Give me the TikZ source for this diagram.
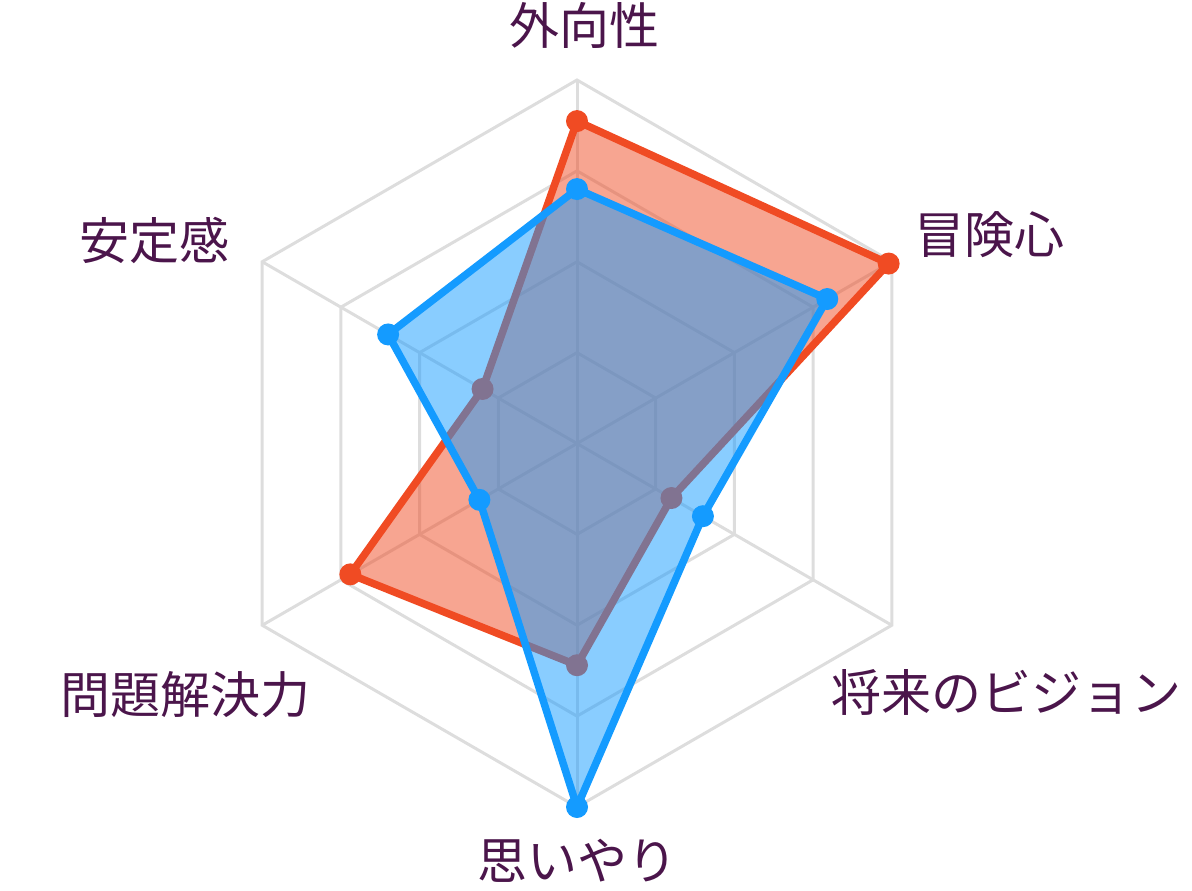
\documentclass[tikz,border=0pt]{standalone}
\usepackage{fontspec}
\newfontfamily\jpfont{Noto Sans CJK JP}
\definecolor{gridgray}{HTML}{DDDDDD}
\definecolor{redS}{RGB}{240,75,35}
\definecolor{blueS}{RGB}{20,155,255}
\definecolor{labelC}{RGB}{75,21,75}
\begin{document}
\begin{tikzpicture}[x=1pt,y=-1pt,
  gridline/.style={draw=gridgray,line width=3pt},
  redarea/.style={fill=redS,fill opacity=0.5},
  bluearea/.style={fill=blueS,fill opacity=0.5},
  redline/.style={draw=redS,line width=7.5pt,line join=round},
  blueline/.style={draw=blueS,line width=7.5pt,line join=round},
  lbl/.style={font=\jpfont\fontsize{50}{60}\selectfont,text=labelC,inner sep=0pt}]
\useasboundingbox (0,0) rectangle (1192,891);
\coordinate (O) at (577,443.5);
\def\R{363.5}
% grid rings
\foreach \k in {1,2,3,4}{
  \pgfmathsetmacro\r{\k*\R/4}
  \draw[gridline,shift={(O)}] (-90:\r) -- (-30:\r) -- (30:\r) -- (90:\r) -- (150:\r) -- (210:\r) -- cycle;
}
% spokes
\foreach \a in {-90,-30,30,90,150,210}{
  \draw[gridline] (O) -- ++(\a:\R);
}
% data coordinates
\foreach \a/\v/\n in {-90/0.887/r1,-30/0.99/r2,30/0.30/r3,90/0.61/r4,150/0.72/r5,210/0.30/r6}{
  \path (O) ++(\a:{\v*\R}) coordinate (\n);
}
\foreach \a/\v/\n in {-90/0.70/b1,-30/0.795/b2,30/0.40/b3,90/1.0/b4,150/0.31/b5,210/0.60/b6}{
  \path (O) ++(\a:{\v*\R}) coordinate (\n);
}
% red series
\fill[redarea] (r1) -- (r2) -- (r3) -- (r4) -- (r5) -- (r6) -- cycle;
\draw[redline] (r1) -- (r2) -- (r3) -- (r4) -- (r5) -- (r6) -- cycle;
\foreach \n in {r1,r2,r3,r4,r5,r6}{ \fill[redS] (\n) circle (11); }
% blue series
\fill[bluearea] (b1) -- (b2) -- (b3) -- (b4) -- (b5) -- (b6) -- cycle;
\draw[blueline] (b1) -- (b2) -- (b3) -- (b4) -- (b5) -- (b6) -- cycle;
\foreach \n in {b1,b2,b3,b4,b5,b6}{ \fill[blueS] (\n) circle (11); }
% labels
\node[lbl] (l1) at (584,25) {外向性};
\node[lbl] (l2) at (989,235) {冒険心};
\node[lbl] (l3) at (1006,692) {将来のビジョン};
\node[lbl] (l4) at (577,861) {思いやり};
\node[lbl] (l5) at (185,695) {問題解決力};
\node[lbl] (l6) at (154,240) {安定感};
\end{tikzpicture}
\end{document}
